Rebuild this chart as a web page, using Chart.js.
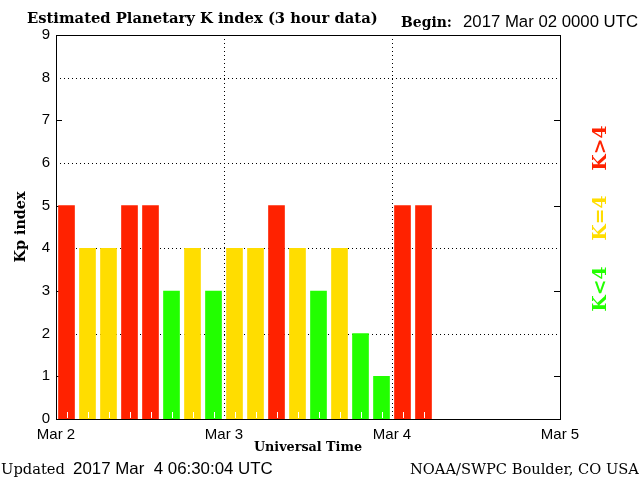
<!DOCTYPE html>
<html>
<head>
<meta charset="utf-8">
<script src="https://cdn.jsdelivr.net/npm/chart.js@4/dist/chart.umd.min.js"></script>
<style>
  html, body { margin: 0; padding: 0; background: #fff; }
  #wrap { width: 640px; height: 480px; }
</style>
</head>
<body>
<div id="wrap"><canvas id="kpChart" width="640" height="480"></canvas></div>
<script>
// 3 hour Kp values, Mar 2 00 UTC onwards
const slotHours = [1.5, 4.5, 7.5, 10.5, 13.5, 16.5, 19.5, 22.5,
                   25.5, 28.5, 31.5, 34.5, 37.5, 40.5, 43.5, 46.5,
                   49.5, 52.5];
const kpValues = [5, 4, 4, 5, 5, 3, 4, 3,
                  4, 4, 5, 4, 3, 4, 2, 1,
                  5, 5];
const dayLabels = ['Mar 2', 'Mar 3', 'Mar 4', 'Mar 5'];
const dayHours = [0, 24, 48, 72];
const gridKp = [2, 4, 6, 8];     // dotted lines
const tickKp = [1, 3, 5, 7];     // small ticks only
const dayLines = [24, 48];

const RED = 'rgb(255,34,0)';
const YELLOW = 'rgb(255,221,0)';
const GREEN = 'rgb(34,255,0)';

function kpColor(v) {
  if (v > 4) return RED;
  if (v == 4) return YELLOW;
  return GREEN;
}

const SERIF = '"DejaVu Serif", "Liberation Serif", serif';
const SANS = '"Liberation Sans", Arial, sans-serif';

// pick a font size so the text fills the given width
function fitFont(ctx, text, width, weight, family) {
  ctx.font = weight + ' 100px ' + family;
  const w = ctx.measureText(text).width;
  ctx.font = weight + ' ' + (100 * width / w).toFixed(2) + 'px ' + family;
}

function put(ctx, text, x, y, width, weight, family, align) {
  fitFont(ctx, text, width, weight, family);
  ctx.textAlign = align || 'left';
  ctx.fillText(text, x, y);
}

const frame = {
  id: 'frame',
  beforeDatasetsDraw(chart) {
    const { ctx, chartArea: a, scales: { x, y } } = chart;
    ctx.save();
    ctx.strokeStyle = '#000';
    ctx.lineWidth = 1;
    ctx.setLineDash([1, 3]);
    gridKp.forEach(v => {
      const py = Math.round(y.getPixelForValue(v)) + 0.5;
      ctx.beginPath(); ctx.moveTo(a.left, py); ctx.lineTo(a.right, py); ctx.stroke();
    });
    dayLines.forEach(h => {
      const px = Math.round(x.getPixelForValue(h)) + 0.5;
      ctx.beginPath(); ctx.moveTo(px, a.top); ctx.lineTo(px, a.bottom); ctx.stroke();
    });
    ctx.setLineDash([]);
    tickKp.forEach(v => {
      const py = Math.round(y.getPixelForValue(v)) + 0.5;
      ctx.beginPath();
      ctx.moveTo(a.left, py); ctx.lineTo(a.left + 6, py);
      ctx.moveTo(a.right, py); ctx.lineTo(a.right - 6, py);
      ctx.stroke();
    });
    ctx.restore();
  },
  afterDatasetsDraw(chart) {
    const { ctx, chartArea: a, scales: { x } } = chart;
    ctx.save();
    // little white 3-hour marks at the foot of the bars
    ctx.strokeStyle = '#fff';
    ctx.lineWidth = 1;
    slotHours.forEach(h => {
      const px = Math.round(x.getPixelForValue(h)) + 0.5;
      ctx.beginPath(); ctx.moveTo(px, a.bottom - 1); ctx.lineTo(px, a.bottom - 7); ctx.stroke();
    });
    ctx.strokeStyle = '#000';
    ctx.strokeRect(Math.round(a.left) + 0.5, Math.round(a.top) + 0.5,
                   Math.round(a.right - a.left), Math.round(a.bottom - a.top));
    ctx.restore();
  },
  afterDraw(chart) {
    const { ctx, chartArea: a } = chart;
    ctx.save();
    ctx.fillStyle = '#000';
    ctx.textBaseline = 'alphabetic';
    put(ctx, 'Estimated Planetary K index (3 hour data)', 27, 23, 351, 'bold', SERIF);
    put(ctx, 'Begin:', 401, 27, 51, 'bold', SERIF);
    put(ctx, '2017 Mar 02 0000 UTC', 463, 27, 175, 'normal', SANS);

    put(ctx, 'Updated', 1, 474, 64, 'normal', SERIF);
    put(ctx, '2017 Mar  4 06:30:04 UTC', 73, 474, 200, 'normal', SANS);
    put(ctx, 'NOAA/SWPC Boulder, CO USA', 410, 474, 229, 'normal', SERIF);

    ctx.textBaseline = 'middle';
    put(ctx, 'Universal Time', (a.left + a.right) / 2, 448, 108, 'bold', SERIF, 'center');

    ctx.translate(21, (a.top + a.bottom) / 2);
    ctx.rotate(-Math.PI / 2);
    put(ctx, 'Kp index', 0, 0, 71, 'bold', SERIF, 'center');
    ctx.restore();

    ctx.save();
    ctx.textBaseline = 'middle';
    [['K>4', RED, 148], ['K=4', YELLOW, 218], ['K<4', GREEN, 289]].forEach(([t, c, cy]) => {
      ctx.save();
      ctx.fillStyle = c;
      ctx.translate(601, cy);
      ctx.rotate(-Math.PI / 2);
      put(ctx, t, 0, 0, 45, 'bold', SERIF, 'center');
      ctx.restore();
    });
    ctx.restore();
  }
};

new Chart(document.getElementById('kpChart'), {
  type: 'bar',
  data: {
    datasets: [{
      data: slotHours.map((h, i) => ({ x: h, y: kpValues[i] })),
      backgroundColor: ctx => kpColor(ctx.raw.y),
      barThickness: 16,
      borderWidth: 0,
      grouped: false
    }]
  },
  options: {
    responsive: false,
    animation: false,
    layout: { padding: { top: 35, right: 80, left: 0, bottom: 0 } },
    plugins: { legend: { display: false }, title: { display: false }, tooltip: { enabled: false } },
    scales: {
      x: {
        type: 'linear',
        min: 0, max: 72,
        offset: false,
        afterBuildTicks: s => { s.ticks = dayHours.map(v => ({ value: v })); },
        ticks: {
          callback: v => dayLabels[dayHours.indexOf(v)],
          color: '#000',
          font: { family: SANS, size: 15 },
          padding: 7,
          maxRotation: 0,
          autoSkip: false
        },
        grid: { display: false, drawTicks: false, offset: false },
        border: { display: false },
        afterFit: s => { s.height = 61; }
      },
      y: {
        min: 0, max: 9,
        ticks: {
          stepSize: 1,
          color: '#000',
          font: { family: SANS, size: 15 },
          padding: 6
        },
        grid: { display: false, drawTicks: false },
        border: { display: false },
        afterFit: s => { s.width = 56; }
      }
    }
  },
  plugins: [frame]
});
</script>
</body>
</html>
